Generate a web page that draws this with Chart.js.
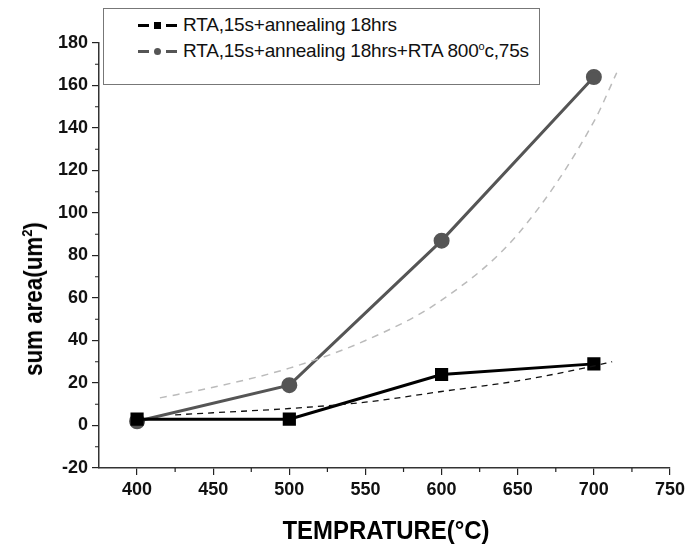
<!DOCTYPE html>
<html><head><meta charset="utf-8">
<script src="https://cdn.jsdelivr.net/npm/chart.js@4.4.1/dist/chart.umd.min.js"></script>
<style>
html,body{margin:0;padding:0;background:#fff;}
#wrap{position:relative;width:693px;height:550px;}
#legend{position:absolute;left:103px;top:8px;width:435px;height:75px;border:1.5px solid #777;background:#fff;
 font-family:'Liberation Sans',Arial,sans-serif;font-size:19px;color:#111;}
.row{position:absolute;left:34px;height:22px;line-height:22px;white-space:nowrap;letter-spacing:-0.2px;}
.sym{display:inline-block;position:relative;width:40px;height:22px;vertical-align:top;margin-right:5px;}
.sym .d{position:absolute;top:10px;height:3px;width:11px;}
.sym .d.l{left:0}.sym .d.r{left:28px}
.sym .m{position:absolute;}
.row sup{font-size:11px;vertical-align:7px;line-height:0;}
.atitle{position:absolute;white-space:nowrap;font-family:'Liberation Sans',Arial,sans-serif;font-weight:bold;color:#000;line-height:1;}
#ytitle{left:33px;top:299px;font-size:26px;transform:translate(-50%,-50%) rotate(-90deg) scaleX(0.86);}
#ytitle sup{font-size:15px;vertical-align:10px;line-height:0;}
#xtitle{left:386px;top:530px;font-size:26px;transform:translate(-50%,-50%) scaleX(0.92);}
</style></head>
<body><div id="wrap"><canvas id="c" width="693" height="550"></canvas>
<div id="legend">
 <div class="row" style="top:5px"><span class="sym"><span class="d l" style="background:#000"></span><span class="m" style="left:16px;top:8px;width:7px;height:7px;background:#000"></span><span class="d r" style="background:#000"></span></span>RTA,15s+annealing 18hrs</div>
 <div class="row" style="top:31px"><span class="sym"><span class="d l" style="background:#555"></span><span class="m" style="left:16px;top:8px;width:7px;height:7px;border-radius:50%;background:#555"></span><span class="d r" style="background:#555"></span></span>RTA,15s+annealing 18hrs+RTA 800<sup>o</sup>c,75s</div>
</div>
<div class="atitle" id="ytitle">sum area(um<sup>2</sup>)</div>
<div class="atitle" id="xtitle">TEMPRATURE(°C)</div>
</div>
<script>
const temps = [400, 500, 600, 700];
const areaRTA = [3, 3, 24, 29];
const areaRTA800 = [2, 19, 87, 164];
const fitRTA_T = [425, 450, 500, 550, 600, 650, 700, 712];
const fitRTA_V = [5, 6, 8, 11, 16, 21, 28, 30];
const fitRTA800_T = [415, 450, 500, 550, 600, 650, 700, 715];
const fitRTA800_V = [13, 18, 27, 40, 59, 90, 143, 166];
const xTicks = [400, 450, 500, 550, 600, 650, 700, 750];
const xMinorTicks = [425, 475, 525, 575, 625, 675, 725];
const yTicks = [-20, 0, 20, 40, 60, 80, 100, 120, 140, 160, 180];
const yMinorTicks = [-10, 10, 30, 50, 70, 90, 110, 130, 150, 170];

const pts = (xs, ys) => xs.map((x, i) => ({x, y: ys[i]}));
const FONT = "'Liberation Sans',Arial,sans-serif";

const minorTicks = {
  id: 'minorTicks',
  afterDraw(chart) {
    const ctx = chart.ctx, xs = chart.scales.x, ys = chart.scales.y;
    ctx.save(); ctx.strokeStyle = '#222'; ctx.lineWidth = 1.2;
    ctx.beginPath();
    xMinorTicks.forEach(v => { const p = xs.getPixelForValue(v); ctx.moveTo(p, xs.top); ctx.lineTo(p, xs.top + 4); });
    yMinorTicks.forEach(v => { const p = ys.getPixelForValue(v); ctx.moveTo(ys.right, p); ctx.lineTo(ys.right - 4, p); });
    ctx.stroke(); ctx.restore();
  }
};

new Chart(document.getElementById('c'), {
  type: 'scatter',
  data: {
    datasets: [
      {data: pts(fitRTA_T, fitRTA_V), showLine: true, borderColor: '#111', borderWidth: 1.3, borderDash: [6, 5], pointRadius: 0, cubicInterpolationMode: 'monotone'},
      {data: pts(fitRTA800_T, fitRTA800_V), showLine: true, borderColor: '#bbb', borderWidth: 1.5, borderDash: [7, 6], pointRadius: 0, cubicInterpolationMode: 'monotone'},
      {data: pts(temps, areaRTA), showLine: true, borderColor: '#000', borderWidth: 3, pointStyle: 'rect', pointRadius: 7.2, pointBackgroundColor: '#000', pointBorderColor: '#000'},
      {data: pts(temps, areaRTA800), showLine: true, borderColor: '#555', borderWidth: 3, pointStyle: 'circle', pointRadius: 6.5, pointBackgroundColor: '#555', pointBorderColor: '#555'}
    ]
  },
  options: {
    responsive: false, animation: false,
    layout: {padding: {left: 0, right: 23, top: 43, bottom: 0}},
    plugins: {legend: {display: false}, tooltip: {enabled: false}},
    scales: {
      x: {
        type: 'linear', min: 375, max: 750,
        afterBuildTicks: s => { s.ticks = xTicks.map(v => ({value: v})); },
        afterFit: s => { s.height = 82; },
        grid: {drawOnChartArea: false, drawTicks: true, tickLength: 7, color: '#222', lineWidth: 1.2},
        border: {display: true, color: '#333', width: 1.5},
        ticks: {color: '#111', padding: 4, font: {family: FONT, size: 18, weight: 'bold'}},
        title: {display: false}
      },
      y: {
        type: 'linear', min: -20, max: 180,
        afterBuildTicks: s => { s.ticks = yTicks.map(v => ({value: v})); },
        afterFit: s => { s.width = 99; },
        grid: {drawOnChartArea: false, drawTicks: true, tickLength: 7, color: '#222', lineWidth: 1.2},
        border: {display: true, color: '#333', width: 1.5},
        ticks: {color: '#111', padding: 4, font: {family: FONT, size: 18, weight: 'bold'}},
        title: {display: false}
      }
    }
  },
  plugins: [minorTicks]
});
</script></body></html>
